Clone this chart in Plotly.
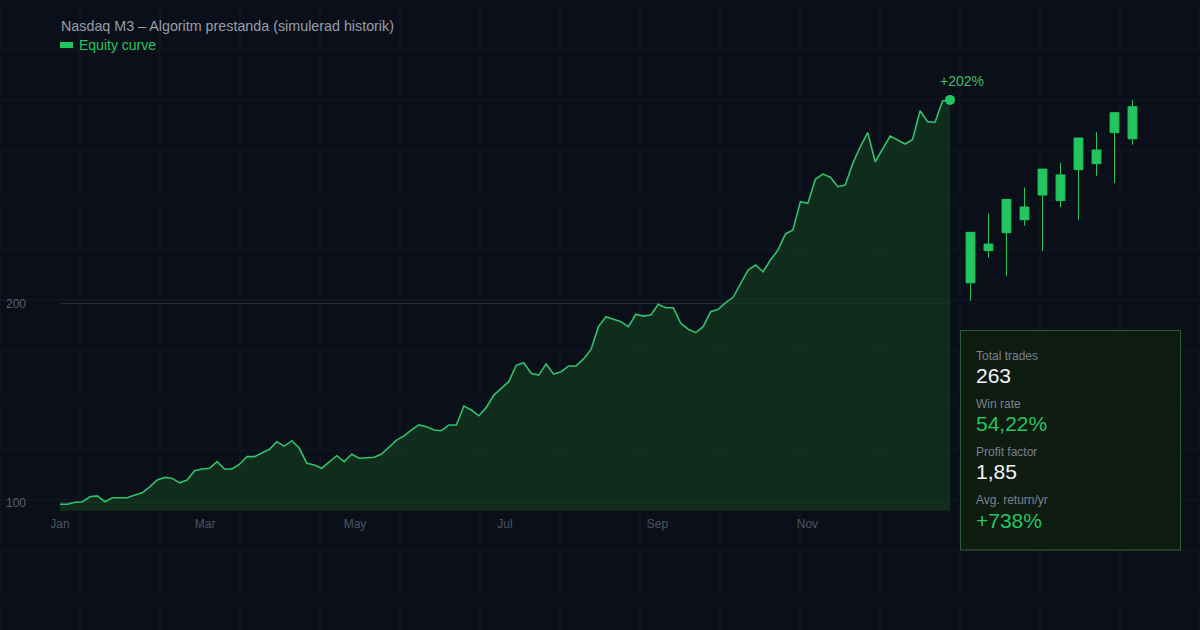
import pandas as pd
import plotly.graph_objects as go

# equity curve, indexed to 100 at start
equity = [
    99.2, 99.2, 100.2, 100.5, 103.0, 103.4, 100.5, 102.5, 102.5, 102.5,
    103.9, 105.0, 108.0, 111.4, 112.7, 112.2, 110.0, 111.4, 116.0, 116.9,
    117.3, 120.6, 116.9, 116.9, 119.3, 123.1, 123.1, 125.1, 126.8, 130.6,
    128.4, 131.1, 127.3, 119.8, 118.9, 117.3, 120.6, 123.6, 120.6, 124.3,
    122.3, 122.6, 122.8, 124.4, 127.8, 131.4, 133.5, 136.5, 139.0, 138.1,
    136.5, 136.1, 139.0, 139.0, 148.5, 146.5, 143.6, 147.8, 154.0, 157.4,
    160.7, 168.9, 170.2, 164.9, 164.0, 169.6, 164.5, 165.7, 168.6, 168.6,
    172.1, 176.9, 188.3, 193.3, 192.0, 190.8, 188.3, 194.5, 193.6, 194.1,
    199.5, 197.8, 197.8, 190.0, 187.0, 185.3, 188.3, 195.8, 197.0, 200.3,
    203.0, 210.0, 216.7, 219.2, 215.8, 221.7, 226.7, 234.8, 236.8, 251.0,
    250.2, 262.2, 264.8, 263.2, 258.5, 259.3, 270.2, 278.5, 285.6, 271.0,
    277.7, 283.9, 281.9, 279.9, 282.2, 296.6, 291.1, 290.8, 301.5, 302.0,
]
dates = pd.date_range("2023-01-01", "2023-12-29", periods=len(equity))

# candles on the right
candle_x = [1, 2, 3, 4, 5, 6, 7, 8, 9, 10]
candle_open = [210.3, 226.4, 235.4, 241.9, 254.3, 251.5, 267.0, 270.0, 285.6, 282.5]
candle_high = [235.6, 245.1, 252.1, 258.1, 267.3, 270.4, 282.9, 285.9, 295.6, 302.0]
candle_low = [201.3, 222.9, 213.8, 238.9, 226.2, 248.1, 241.8, 264.0, 260.3, 279.5]
candle_close = [235.6, 229.7, 252.1, 248.3, 267.3, 264.4, 282.9, 276.9, 295.6, 298.6]

y_ticks = [100, 200]
end_label = "+202%"

stat_labels = ["Total trades", "Win rate", "Profit factor", "Avg. return/yr"]
stat_values = ["263", "54,22%", "1,85", "+738%"]

W, H = 1200, 630
BG = "#0b0f1a"
GREEN = "#22c55e"
FONT = "Liberation Sans, Arial, sans-serif"


def px(x):
    return x / W


def py(y):
    return 1 - y / H


y_range = [96, 317]
y_dom = [py(510.7), py(70)]

fig = go.Figure()

fig.add_trace(go.Scatter(
    x=dates, y=equity, mode="lines", name="Equity curve",
    line=dict(color="#2fc26a", width=1.6),
    fill="tozeroy", fillcolor="rgba(18,55,30,0.72)",
    showlegend=False,
))
fig.add_trace(go.Scatter(
    x=[dates[-1]], y=[equity[-1]], mode="markers",
    marker=dict(color=GREEN, size=10), cliponaxis=False, showlegend=False,
))
fig.add_trace(go.Candlestick(
    x=candle_x, open=candle_open, high=candle_high, low=candle_low, close=candle_close,
    xaxis="x2", yaxis="y2",
    increasing=dict(line=dict(color=GREEN, width=1), fillcolor=GREEN),
    decreasing=dict(line=dict(color="#ef4444", width=1), fillcolor="#ef4444"),
    whiskerwidth=0, showlegend=False,
))

# faint background grid over the whole canvas
shapes = []
for gx in range(0, W + 1, 80):
    shapes.append(dict(type="line", xref="paper", yref="paper", layer="below",
                       x0=px(gx), x1=px(gx), y0=0, y1=1,
                       line=dict(color="#141a26", width=1)))
for gy in range(0, H + 1, 50):
    shapes.append(dict(type="line", xref="paper", yref="paper", layer="below",
                       x0=0, x1=1, y0=py(gy), y1=py(gy),
                       line=dict(color="#141a26", width=1)))

# legend swatch
shapes.append(dict(type="rect", xref="paper", yref="paper",
                   x0=px(60), x1=px(73), y0=py(48), y1=py(42),
                   fillcolor=GREEN, line=dict(width=0)))
# stats panel
shapes.append(dict(type="rect", xref="paper", yref="paper",
                   x0=px(960.5), x1=px(1180.5), y0=py(550), y1=py(330.5),
                   fillcolor="#0e1b11", line=dict(color="#2b5e37", width=1)))

annotations = [
    dict(text="Nasdaq M3 – Algoritm prestanda (simulerad historik)",
         xref="paper", yref="paper", x=px(59), y=py(26), xanchor="left", yanchor="middle",
         showarrow=False, font=dict(size=14.3, color="#989ea9")),
    dict(text="Equity curve", xref="paper", yref="paper", x=px(77), y=py(45),
         xanchor="left", yanchor="middle", showarrow=False,
         font=dict(size=14, color=GREEN)),
    dict(text=end_label, x=dates[-1], y=equity[-1], xref="x", yref="y",
         showarrow=False, xshift=12, yshift=19,
         font=dict(size=14, color="#3fbf6a")),
]

value_colors = ["#f3f4f6", GREEN, "#f3f4f6", GREEN]
for i, (lab, val) in enumerate(zip(stat_labels, stat_values)):
    ly = 355.5 + 48.2 * i
    annotations.append(dict(text=lab, xref="paper", yref="paper", x=px(974), y=py(ly),
                            xanchor="left", yanchor="middle", showarrow=False,
                            font=dict(size=12, color="#7b818e")))
    annotations.append(dict(text=val, xref="paper", yref="paper", x=px(974), y=py(ly + 20),
                            xanchor="left", yanchor="middle", showarrow=False,
                            font=dict(size=21, color=value_colors[i])))

fig.update_layout(
    width=W, height=H,
    margin=dict(l=0, r=0, t=0, b=0, autoexpand=False),
    paper_bgcolor=BG, plot_bgcolor="rgba(0,0,0,0)",
    font=dict(family=FONT),
    showlegend=False,
    shapes=shapes,
    annotations=annotations,
    hovermode=False,
    xaxis=dict(
        domain=[px(60), px(950)], anchor="y", automargin=False,
        type="date", range=[dates[0], dates[-1]],
        tickformat="%b", dtick="M2", tick0="2023-01-01",
        showgrid=False, zeroline=False, showline=False, ticks="",
        tickfont=dict(size=12, color="#4d5363"), ticklabelstandoff=4,
    ),
    yaxis=dict(
        domain=y_dom, anchor="x", range=y_range, automargin=False,
        tickvals=y_ticks, showgrid=True, gridcolor="#262c38", gridwidth=1,
        zeroline=False, showline=False, ticks="",
        tickfont=dict(size=12, color="#5a606e"), ticklabelstandoff=33,
    ),
    xaxis2=dict(
        domain=[px(960), px(1152)], anchor="y2", range=[0.417, 11.083],
        visible=False, automargin=False, rangeslider=dict(visible=False),
    ),
    yaxis2=dict(
        domain=y_dom, anchor="x2", range=y_range, visible=False, automargin=False,
    ),
)

fig.write_html("out.html", config={"displayModeBar": False},
               post_script="document.body.style.margin='0';")
